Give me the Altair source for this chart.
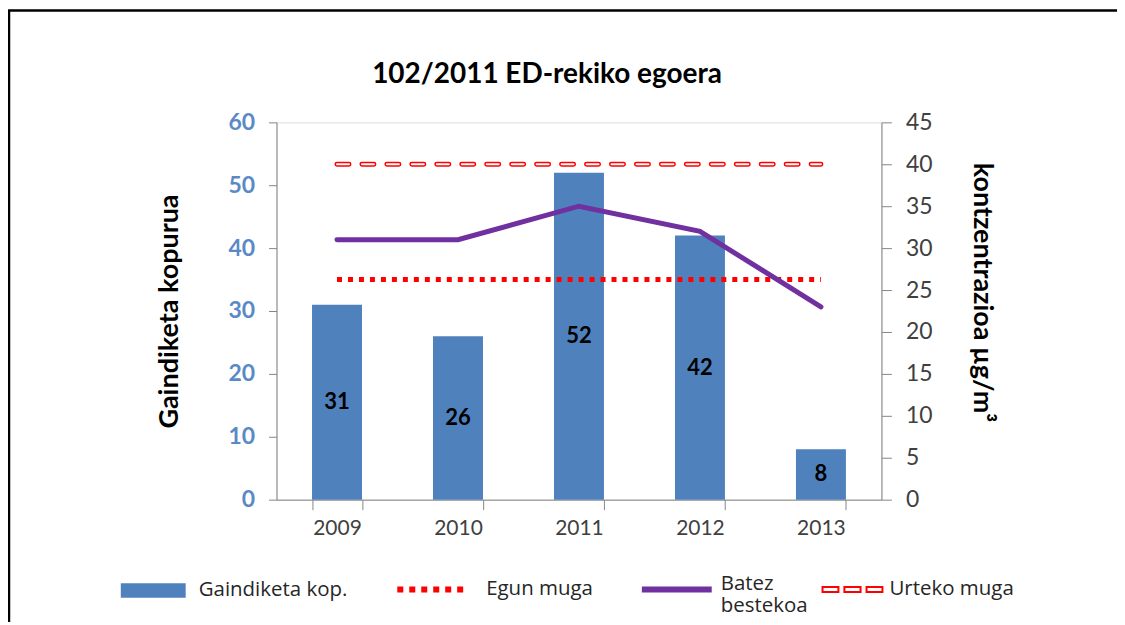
import altair as alt
import pandas as pd

years = ["2009", "2010", "2011", "2012", "2013"]
exceedances = [31, 26, 52, 42, 8]          # Gaindiketa kop. (left axis)
annual_mean = [31, 31, 35, 32, 23]         # Batez bestekoa (right axis, µg/m³)
daily_limit = [35, 35, 35, 35, 35]         # Egun muga (left axis)
annual_limit = [40, 40, 40, 40, 40]        # Urteko muga (right axis)

df = pd.DataFrame({
    "year": years,
    "exceed": exceedances,
    "avg": annual_mean,
    "egun": daily_limit,
    "urteko": annual_limit,
})

BLUE = "#4F81BD"
RED = "#FF0000"
PURPLE = "#7030A0"
AXIS_GRAY = "#868686"
FONT = "Lato"
LFONT = "Open Sans"

W, H = 606, 378
PLOT_Y = 122

x_enc = alt.X(
    "year:O",
    scale=alt.Scale(paddingInner=0.587, paddingOuter=0.2935),
    axis=alt.Axis(title=None, labelAngle=0, tickBand="extent", tickSize=10,
                  labelPadding=8, labelFontSize=21, labelFont=FONT,
                  labelColor="#404040", domainColor=AXIS_GRAY, tickColor=AXIS_GRAY,
                  grid=False),
)

left_axis = alt.Axis(
    title="Gaindiketa kopurua", values=[0, 10, 20, 30, 40, 50, 60], grid=False,
    tickSize=8, labelPadding=14, labelFontSize=23, labelFont=FONT, labelFontWeight="bold",
    labelColor="#5A8AC6", domainColor=AXIS_GRAY, tickColor=AXIS_GRAY,
    titleFont=FONT, titleFontSize=27, titleFontWeight="bold", titleColor="#000000",
    titleAngle=270, titleX=-107, titleY=189, titleAlign="center", titleBaseline="middle",
)
right_axis = alt.Axis(
    title="kontzentrazioa µg/m³", orient="right", values=[0, 5, 10, 15, 20, 25, 30, 35, 40, 45],
    grid=False, tickSize=10, labelPadding=14, labelFontSize=23, labelFont=FONT,
    labelColor="#404040", domainColor=AXIS_GRAY, tickColor=AXIS_GRAY,
    titleFont=FONT, titleFontSize=27, titleFontWeight="bold", titleColor="#000000",
    titleAngle=90, titleX=100, titleY=170, titleAlign="center", titleBaseline="middle",
)
yl_scale = alt.Scale(domain=[0, 60], nice=False, zero=True)
yr_scale = alt.Scale(domain=[0, 45], nice=False, zero=True)


def legend(x, y, size, sym_type, offset, **kw):
    return alt.Legend(
        title=None, orient="none", legendX=x, legendY=y,
        symbolType=sym_type, symbolSize=size * size, labelFont=LFONT, labelFontSize=20.5,
        labelColor="#262626", labelOffset=offset, padding=0, labelLimit=400, **kw,
    )


base = alt.Chart(df)

frame = alt.Chart(pd.DataFrame({"f": [0]})).mark_rect(
    fill=None, stroke="#000000", strokeWidth=2.5
).encode(
    x=alt.value(-268), x2=alt.value(W + 270),
    y=alt.value(-112), y2=alt.value(H + 150),
)

bars = base.transform_calculate(s="'Gaindiketa kop.'").mark_bar(color=BLUE).encode(
    x=x_enc,
    y=alt.Y("exceed:Q", scale=yl_scale, axis=left_axis),
    color=alt.Color("s:N", scale=alt.Scale(range=[BLUE]),
                    legend=legend(120 - 277, 435.5, 65, "M-1,-0.22H1V0.22H-1Z", 12)),
)

labels = base.transform_calculate(mid="datum.exceed / 2").mark_text(
    font=FONT, fontSize=22, fontWeight="bold", color="#000000", baseline="middle"
).encode(
    x=x_enc,
    y=alt.Y("mid:Q", scale=yl_scale, axis=left_axis),
    text=alt.Text("exceed:Q"),
)

egun = base.transform_calculate(s="'Egun muga'").mark_line(
    strokeWidth=5, strokeDash=[5, 6], strokeCap="butt"
).encode(
    x=x_enc,
    y=alt.Y("egun:Q", scale=yl_scale, axis=left_axis),
    color=alt.Color("s:N", scale=alt.Scale(range=[RED]),
                    legend=legend(395 - 277, 430, 70, "stroke", 16,
                                  symbolStrokeWidth=6, symbolDash=[6, 6])),
)

avg = base.transform_calculate(s="'Batez bestekoa'").mark_line(
    strokeWidth=5, strokeCap="round"
).encode(
    x=x_enc,
    y=alt.Y("avg:Q", scale=yr_scale, axis=right_axis),
    color=alt.Color("s:N", scale=alt.Scale(range=[PURPLE]),
                    legend=legend(640 - 277, 424, 70, "M-1,0.17L1,0.17", 6,
                                  symbolStrokeWidth=6,
                                  labelExpr="split(datum.label, ' ')")),
)

urt_outer = base.transform_calculate(s="'Urteko muga'").mark_line(
    strokeWidth=5, strokeDash=[12, 13], strokeCap="round"
).encode(
    x=x_enc,
    y=alt.Y("urteko:Q", scale=yr_scale, axis=right_axis),
    color=alt.Color("s:N", scale=alt.Scale(range=[RED]),
                    legend=legend(823 - 277, 437, 60,
                                  "M-1,-0.08H-0.47V0.08H-1Z M-0.27,-0.08H0.27V0.08H-0.27Z M0.47,-0.08H1V0.08H0.47Z",
                                  6, symbolStrokeWidth=2, symbolFillColor="white")),
)

urt_inner = base.mark_line(
    strokeWidth=2, strokeDash=[12, 13], strokeCap="round", color="white"
).encode(
    x=x_enc,
    y=alt.Y("urteko:Q", scale=yr_scale, axis=right_axis),
)

left = alt.layer(bars, labels, egun).resolve_scale(color="independent")
right = alt.layer(avg, urt_outer, urt_inner).resolve_scale(color="independent")

chart = alt.layer(frame, left, right).resolve_scale(y="independent", color="independent").properties(
    width=W,
    height=H,
    autosize=alt.AutoSizeParams(type="none"),
    padding={"left": 269, "top": 114, "right": 236, "bottom": 122},
    title=alt.Title("102/2011 ED-rekiko egoera", font=FONT, fontSize=28, fontWeight="bold",
                    color="#000000", anchor="middle", frame="group", dx=-32, dy=80, offset=0),
).configure_view(stroke=None).configure(background="white")

chart.save("out.html", embed_options={"renderer": "svg", "actions": False})
